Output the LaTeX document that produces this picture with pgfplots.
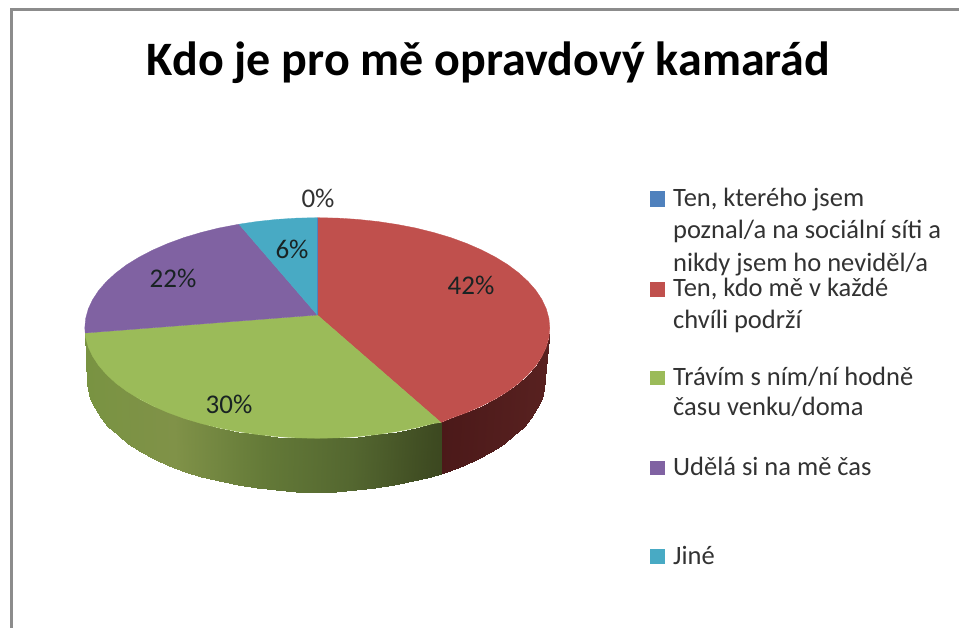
\documentclass[border=0pt]{standalone}
\usepackage{fontspec}
\setmainfont{Carlito}
\usepackage{pgfplots}
\pgfplotsset{compat=1.18}
\definecolor{pieblue}{RGB}{79,129,189}
\definecolor{piered}{RGB}{192,80,77}
\definecolor{piegreen}{RGB}{155,187,89}
\definecolor{piepurple}{RGB}{128,98,162}
\definecolor{pieteal}{RGB}{72,170,196}
\definecolor{legtext}{RGB}{50,50,50}
\definecolor{valtext}{RGB}{25,35,35}
\definecolor{frameg}{RGB}{140,140,140}
\tikzset{
  leg/.style={font=\fontsize{26.5}{26.5}\selectfont,text=legtext,anchor=base west,inner sep=0pt},
  val/.style={font=\fontsize{27}{27}\selectfont,text=valtext,anchor=center,inner sep=0pt}}
\begin{document}
\begin{tikzpicture}
\useasboundingbox (0,0) rectangle (959pt,628pt);
\begin{axis}[at={(0,0)},anchor=south west,scale only axis,width=959pt,height=628pt,
  xmin=0,xmax=959,ymin=0,ymax=628,y dir=reverse,hide axis,clip=false,
  point meta min=0,point meta max=1]
% frame
\addplot[frameg,line width=2.6pt] coordinates {(11.5,628) (11.5,9.5) (959,9.5)};
% side, red part
\addplot[surf,shader=interp,mesh/rows=2,point meta=explicit,
  colormap={redside}{rgb255=(75,25,25) rgb255=(88,33,32)}]
  table[x=x,y=y,meta=c] {
x y c
549.8 328 1
548.9 337.6 1
546.3 347.1 .97
541.9 356.5 .92
535.8 365.7 .87
528.0 374.6 .8
518.7 383.2 .71
507.8 391.3 .61
495.4 398.9 .5
481.7 406.0 .37
466.8 412.5 .23
450.7 418.4 .09
441 422.5 0
545 379 1
544.1 388.8 1
541.5 398.6 .97
537.2 408.2 .92
531.2 417.6 .87
523.5 426.8 .8
514.3 435.5 .71
503.6 443.8 .61
491.4 451.6 .5
477.9 458.9 .37
463.2 465.6 .23
447.4 471.6 .09
441 473.5 0
};
% side, green part
\addplot[surf,shader=interp,mesh/rows=2,point meta=explicit,
  colormap={greenside}{rgb255=(121,147,66) rgb255=(128,146,72) rgb255=(100,122,56) rgb255=(84,103,48) rgb255=(60,72,32)}]
  table[x=x,y=y,meta=c] {
x y c
441 422.5 1
433.6 423.5 .98
415.6 428.0 .93
396.8 431.6 .875
377.5 434.5 .82
357.7 436.6 .765
337.6 437.9 .71
317.3 438.3 .65
297.0 437.9 .595
276.9 436.6 .54
257.1 434.5 .48
237.8 431.6 .43
219.0 428.0 .375
201.0 423.5 .325
183.9 418.4 .28
167.8 412.5 .23
152.9 406.0 .19
139.2 398.9 .15
126.8 391.3 .12
115.9 383.2 .09
106.6 374.6 .06
98.8 365.7 .04
92.7 356.5 .02
88.3 347.1 .01
85.7 337.6 0
85.2 333 0
441 473.5 1
430.5 476.9 .98
412.8 481.4 .93
394.3 485.2 .875
375.3 488.1 .82
355.8 490.3 .765
336.0 491.6 .71
316.0 492.0 .65
296.0 491.6 .595
276.2 490.3 .54
256.7 488.1 .48
237.7 485.2 .43
219.2 481.4 .375
201.5 476.9 .325
184.6 471.6 .28
168.8 465.6 .23
154.1 458.9 .19
140.6 451.6 .15
128.4 443.8 .12
117.7 435.5 .09
108.5 426.8 .06
100.8 417.6 .04
94.8 408.2 .02
90.5 398.6 .01
87.9 388.8 0
87.2 385 0
};
% top face: 42 %
\addplot[fill=piered,draw=piered,line width=.3pt] coordinates {
(317.3,315) (317.3,217.7) (337.6,218.1) (357.7,219.4) (377.5,221.5) (396.8,224.4)
(415.6,228.0) (433.6,232.5) (450.7,237.6) (466.8,243.5) (481.7,250.0) (495.4,257.1)
(507.8,264.7) (518.7,272.9) (528.0,281.4) (535.8,290.3) (541.9,299.5) (546.3,308.9)
(548.9,318.4) (549.8,328) (548.9,337.6) (546.3,347.1) (541.9,356.5) (535.8,365.7)
(528.0,374.6) (518.7,383.2) (507.8,391.3) (495.4,398.9) (481.7,406.0) (466.8,412.5)
(450.7,418.4) (441,422.5) (317.3,315)};
% 30 %
\addplot[fill=piegreen,draw=piegreen,line width=.3pt] coordinates {
(317.3,315) (441,422.5) (433.6,423.5) (415.6,428.0) (396.8,431.6) (377.5,434.5)
(357.7,436.6) (337.6,437.9) (317.3,438.3) (297.0,437.9) (276.9,436.6) (257.1,434.5)
(237.8,431.6) (219.0,428.0) (201.0,423.5) (183.9,418.4) (167.8,412.5) (152.9,406.0)
(139.2,398.9) (126.8,391.3) (115.9,383.2) (106.6,374.6) (98.8,365.7) (92.7,356.5)
(88.3,347.1) (85.7,337.6) (85.2,333) (317.3,315)};
% 22 %
\addplot[fill=piepurple,draw=piepurple,line width=.3pt] coordinates {
(317.3,315) (85.2,333) (84.8,328) (85.7,318.4) (88.3,308.9) (92.7,299.5) (98.8,290.3)
(106.6,281.4) (115.9,272.9) (126.8,264.7) (139.2,257.1) (152.9,250.0) (167.8,243.5)
(183.9,237.6) (201.0,232.5) (219.0,228.0) (239,224.2) (317.3,315)};
% 6 %
\addplot[fill=pieteal,draw=pieteal,line width=.3pt] coordinates {
(317.3,315) (239,224.2) (257.1,221.5) (276.9,219.4) (297.0,218.1) (317.3,217.7) (317.3,315)};
% 0 %
\addplot[pieblue,line width=.8pt] coordinates {(317.3,315) (317.3,217.7)};
% legend keys
\addplot[fill=pieblue,draw=none] coordinates {(650,191) (665,191) (665,207) (650,207)};
\addplot[fill=piered,draw=none] coordinates {(650,282) (665,282) (665,297) (650,297)};
\addplot[fill=piegreen,draw=none] coordinates {(650,371) (665,371) (665,385) (650,385)};
\addplot[fill=piepurple,draw=none] coordinates {(650,461) (665,461) (665,475) (650,475)};
\addplot[fill=pieteal,draw=none] coordinates {(650,549) (665,549) (665,564) (650,564)};
% title
\node[font=\fontsize{48}{48}\selectfont\bfseries,anchor=base,inner sep=0pt] at (axis cs:488.5,76) {Kdo je pro mě opravdový kamarád};
% values
\node[val,text=legtext] at (axis cs:318,198) {0\%};
\node[val] at (axis cs:292,249) {6\%};
\node[val] at (axis cs:173,278) {22\%};
\node[val] at (axis cs:471,285) {42\%};
\node[val] at (axis cs:229,404) {30\%};
% legend text
\node[leg] at (axis cs:673,207) {Ten, kterého jsem};
\node[leg] at (axis cs:673,239) {poznal/a na sociální síti a};
\node[leg] at (axis cs:673,272) {nikdy jsem ho neviděl/a};
\node[leg] at (axis cs:673,297) {Ten, kdo mě v každé};
\node[leg] at (axis cs:673,329) {chvíli podrží};
\node[leg] at (axis cs:673,385) {Trávím s ním/ní hodně};
\node[leg] at (axis cs:673,416) {času venku/doma};
\node[leg] at (axis cs:673,475) {Udělá si na mě čas};
\node[leg] at (axis cs:673,564) {Jiné};
\end{axis}
\end{tikzpicture}
\end{document}
